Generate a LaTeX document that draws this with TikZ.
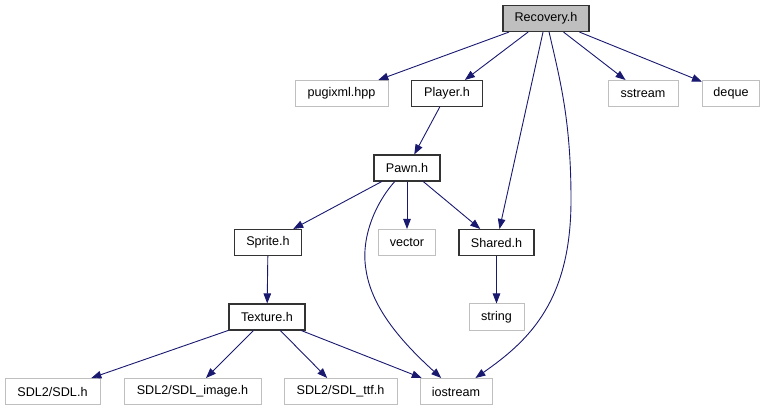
\documentclass[tikz,border=0pt]{standalone}
\usepackage{fontspec}
\setmainfont{Liberation Sans}
\usetikzlibrary{arrows.meta}
\definecolor{edgeblue}{HTML}{191970}
\definecolor{grey75}{HTML}{BFBFBF}
\tikzset{
  hbox/.style={draw=black!80, line width=1.1pt, fill=white, minimum height=26pt, inner sep=0pt, font=\fontsize{12.6}{14}\selectfont},
  extbox/.style={draw=grey75, line width=1pt, fill=white, minimum height=26pt, inner sep=0pt, font=\fontsize{12.6}{14}\selectfont},
  curbox/.style={hbox, fill=grey75},
  dep/.style={draw=edgeblue, line width=0.9pt, -{Triangle[length=10pt,width=7.5pt]}, color=edgeblue}
}
\begin{document}
\begin{tikzpicture}[x=1pt,y=-1pt]
\useasboundingbox (0,0) rectangle (765,411);
% row 1
\node[curbox, minimum width=86pt] (rec) at (546,18.5) {Recovery.h};
% row 2
\node[extbox, minimum width=93pt] (pug) at (341.5,93.5) {pugixml.hpp};
\node[hbox, minimum width=71pt] (player) at (447,93.5) {Player.h};
\node[extbox, minimum width=70pt] (sstream) at (643,93.5) {sstream};
\node[extbox, minimum width=57pt] (deque) at (731,93.5) {deque};
% row 3
\node[hbox, minimum width=66pt] (pawn) at (407,168) {Pawn.h};
% row 4
\node[hbox, minimum width=67pt] (sprite) at (268,242.5) {Sprite.h};
\node[extbox, minimum width=57pt] (vector) at (407,242.5) {vector};
\node[hbox, minimum width=75pt] (shared) at (496.5,242.5) {Shared.h};
% row 5
\node[hbox, minimum width=76pt] (texture) at (267,317) {Texture.h};
\node[extbox, minimum width=55pt] (string) at (496.5,317) {string};
% row 6
\node[extbox, minimum width=95pt] (sdl) at (52.5,391.5) {SDL2/SDL.h};
\node[extbox, minimum width=137pt] (sdlimg) at (192.5,391.5) {SDL2/SDL\_image.h};
\node[extbox, minimum width=113pt] (sdlttf) at (340.5,391.5) {SDL2/SDL\_ttf.h};
\node[extbox, minimum width=72pt] (ios) at (456,391.5) {iostream};
% edges
\draw[dep] (rec) -- (pug);
\draw[dep] (rec) -- (player);
\draw[dep] (rec) -- (shared);
\draw[dep] (rec) .. controls (560,80) and (571,120) .. (571,200) .. controls (571,300) and (530,340) .. (ios);
\draw[dep] (rec) -- (sstream);
\draw[dep] (rec) -- (deque);
\draw[dep] (player) -- (pawn);
\draw[dep] (pawn) -- (sprite);
\draw[dep] (pawn) -- (vector);
\draw[dep] (pawn) -- (shared);
\draw[dep] (pawn) .. controls (378,200) and (360,235) .. (366,270) .. controls (372,310) and (405,345) .. (ios);
\draw[dep] (sprite) -- (texture);
\draw[dep] (shared) -- (string);
\draw[dep] (texture) -- (sdl);
\draw[dep] (texture) -- (sdlimg);
\draw[dep] (texture) -- (sdlttf);
\draw[dep] (texture) -- (ios);
\end{tikzpicture}
\end{document}
